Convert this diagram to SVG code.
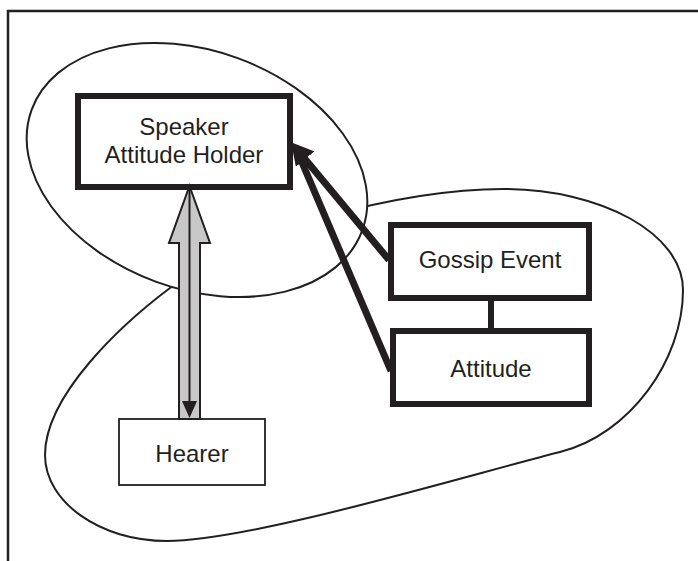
<svg xmlns="http://www.w3.org/2000/svg" width="698" height="561" viewBox="0 0 698 561">
  <style>
    .frame { fill: none; stroke: #231f20; stroke-width: 2.5; }
    .region { fill: #ffffff; stroke: #231f20; stroke-width: 2; }
    .box { fill: #ffffff; stroke: #231f20; stroke-width: 6; }
    .thin { fill: #ffffff; stroke: #231f20; stroke-width: 1.8; }
    .label { font-family: "Liberation Sans", Arial, sans-serif; font-size: 24px; fill: #231f20; text-anchor: middle; }
    .link { fill: none; stroke: #231f20; stroke-width: 7; }
    .bar { fill: none; stroke: #231f20; stroke-width: 6; }
    .block { fill: #c8c8c8; stroke: #231f20; stroke-width: 2; stroke-linejoin: miter; }
  </style>
  <defs>
    <marker id="head" markerUnits="userSpaceOnUse" viewBox="0 0 22 24" markerWidth="22" markerHeight="24" refX="8" refY="12" orient="auto">
      <path d="M0,0 L22,12 L0,24 z" fill="#231f20"/>
    </marker>
  </defs>

  <rect width="698" height="561" fill="#ffffff"/>
  <path class="frame" d="M8,561 L8,11 L698,11"/>

  <!-- regions -->
  <g id="outer-region">
    <path class="region" d="M170,288
      C250,228 403,189 503,189
      C602,189 683,234 683,290
      C683,360 630,434.5 560,452
      C465,476 250,541 167,541
      C100,541 45,502 45,455
      C45,395 122,324 170,288 Z"/>
  </g>
  <g id="speaker-region">
    <ellipse class="region" cx="197" cy="170" rx="176" ry="119" transform="rotate(20 197 170)"/>
  </g>

  <!-- nodes -->
  <g id="speaker">
    <rect class="box" x="78" y="96" width="212" height="91"/>
    <text class="label" x="184" y="135">Speaker</text>
    <text class="label" x="184" y="163">Attitude Holder</text>
  </g>
  <g id="gossip-event">
    <rect class="box" x="391" y="225" width="198" height="73"/>
    <text class="label" x="490" y="268">Gossip Event</text>
  </g>
  <g id="attitude">
    <rect class="box" x="393" y="331" width="196" height="73"/>
    <text class="label" x="491" y="377">Attitude</text>
  </g>
  <g id="hearer">
    <rect class="thin" x="119" y="419" width="146" height="66"/>
    <text class="label" x="192" y="462">Hearer</text>
  </g>

  <!-- connectors -->
  <g id="connectors">
    <line class="bar" x1="491" y1="300" x2="491" y2="329"/>
    <line class="link" x1="391" y1="371" x2="298" y2="153"/>
    <line class="link" x1="389" y1="260" x2="300" y2="153" marker-end="url(#head)"/>
    <g id="speaker-hearer">
      <path class="block" d="M189.5,186 L210,243 L200,243 L200,419 L179,419 L179,243 L169,243 Z"/>
      <line x1="189.5" y1="188" x2="189.5" y2="405" stroke="#231f20" stroke-width="2"/>
      <path d="M182,401 L197,401 L189.5,418 Z" fill="#231f20"/>
    </g>
  </g>
</svg>
